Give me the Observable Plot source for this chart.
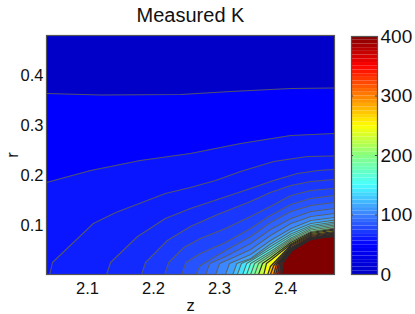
<!DOCTYPE html>
<html>
<head>
<meta charset="utf-8">
<script src="https://cdn.jsdelivr.net/npm/d3@7"></script>
<script src="https://cdn.jsdelivr.net/npm/@observablehq/plot@0.6"></script>
<style>
html,body{margin:0;padding:0;background:#fff}
#wrap{position:relative;width:415px;height:314px;overflow:hidden}
#wrap svg{position:absolute;left:0;top:0;background:transparent}
</style>
</head>
<body>
<div id="wrap"></div>
<script>
const titleText = "Measured K";
const xTicks = [2.1, 2.2, 2.3, 2.4];
const yTicks = [0.1, 0.2, 0.3, 0.4];
const barTicks = [0, 100, 200, 300, 400];
const zDomain = [2.038, 2.474];
const rDomain = [0.002, 0.48];
const jetColors = ["#0000c8","#0000ff","#3c82ff","#48ffff","#88ff80","#ffff00","#ff8000","#ff0000","#800000"];

// Value of the band on the high side of each contour
const bandValues = [0,50,58,62,66,71,76,82,88,94,102,112,125,138,150,165,182,200,225,245,270,290,310,330,350,370,385,400];

const c0 = [[2.038,.48],[2.474,.48]];
const c1 = [[2.038,.364],[2.120,.361],[2.241,.362],[2.317,.368],[2.408,.374],[2.474,.375]];
const c2 = [[2.038,.186],[2.105,.210],[2.180,.230],[2.256,.244],[2.332,.264],[2.408,.280],[2.474,.284]];
const c3 = [[2.043,.002],[2.047,.026],[2.109,.104],[2.143,.126],[2.218,.164],[2.256,.176],[2.294,.190],[2.332,.208],[2.382,.228],[2.433,.238],[2.474,.239]];
const c4 = [[2.129,.002],[2.135,.026],[2.176,.078],[2.218,.114],[2.256,.134],[2.347,.174],[2.382,.190],[2.418,.204],[2.449,.210],[2.474,.212]];
const c5 = [[2.182,.002],[2.188,.026],[2.221,.070],[2.256,.098],[2.297,.122],[2.347,.148],[2.377,.166],[2.408,.180],[2.438,.188],[2.474,.192]];
const c6 = [[2.217,.002],[2.223,.026],[2.246,.056],[2.271,.074],[2.309,.094],[2.347,.118],[2.377,.138],[2.408,.160],[2.438,.170],[2.474,.174]];
const c7 = [[2.243,.002],[2.249,.026],[2.271,.044],[2.309,.066],[2.347,.094],[2.377,.120],[2.408,.142],[2.438,.154],[2.474,.160]];
const c8 = [[2.264,.002],[2.271,.020],[2.309,.050],[2.347,.078],[2.377,.106],[2.408,.128],[2.438,.140],[2.474,.146]];
const c9 = [[2.279,.002],[2.285,.024],[2.309,.038],[2.347,.064],[2.377,.092],[2.408,.114],[2.438,.128],[2.474,.134]];
const c10 = [[2.294,.002],[2.300,.024],[2.324,.038],[2.347,.052],[2.377,.080],[2.408,.104],[2.438,.118],[2.474,.124]];
const c11 = [[2.309,.002],[2.315,.024],[2.347,.042],[2.377,.070],[2.408,.094],[2.438,.110],[2.474,.116]];
const c12 = [[2.320,.002],[2.326,.024],[2.347,.034],[2.377,.063],[2.408,.088],[2.438,.104],[2.474,.111]];
const c13 = [[2.327,.002],[2.333,.024],[2.350,.034],[2.377,.058],[2.408,.083],[2.438,.100],[2.474,.107]];
const c14 = [[2.335,.002],[2.341,.024],[2.377,.053],[2.408,.079],[2.438,.097],[2.474,.104]];
const c15 = [[2.341,.002],[2.347,.024],[2.377,.048],[2.408,.075],[2.438,.094],[2.474,.101]];
const c16 = [[2.347,.002],[2.353,.024],[2.377,.044],[2.408,.072],[2.438,.091],[2.474,.098]];
const c17 = [[2.353,.002],[2.359,.024],[2.377,.040],[2.408,.069],[2.438,.088],[2.474,.095]];
const c18 = [[2.359,.002],[2.365,.024],[2.377,.035],[2.408,.066],[2.438,.086],[2.474,.093]];
const c19 = [[2.367,.002],[2.371,.024],[2.377,.030],[2.408,.063],[2.438,.084],[2.474,.091]];
const c20 = [[2.373,.002],[2.377,.018],[2.408,.061],[2.438,.082],[2.474,.088]];
const c21 = [[2.377,.002],[2.382,.020],[2.408,.059],[2.438,.080],[2.474,.086]];
const c22 = [[2.382,.002],[2.386,.022],[2.408,.056],[2.438,.078],[2.474,.085]];
const c23 = [[2.385,.002],[2.389,.024],[2.408,.054],[2.438,.076],[2.474,.083]];
const c24 = [[2.388,.002],[2.391,.026],[2.408,.052],[2.438,.075],[2.474,.082]];
const c25 = [[2.391,.002],[2.393,.028],[2.408,.050],[2.438,.074],[2.474,.080]];
const c26 = [[2.393,.002],[2.395,.028],[2.408,.048],[2.438,.072],[2.474,.079]];
const c27 = [[2.394,.002],[2.397,.026],[2.412,.054],[2.433,.070],[2.453,.076],[2.474,.078]];
const contours = [c0,c1,c2,c3,c4,c5,c6,c7,c8,c9,c10,c11,c12,c13,c14,c15,c16,c17,c18,c19,c20,c21,c22,c23,c24,c25,c26,c27];

const rows = contours.flatMap((c, i) => c.map(([z, r]) => ({z, r, level: i, v: bandValues[i]})));
const lightLines = rows.filter(d => d.level > 0 && d.level < 18);
const darkLines = rows.filter(d => d.level >= 18);

const colorScale = {type: "linear", domain: [0, 400], interpolate: d3.piecewise(d3.interpolateRgb, jetColors)};
const fontStyle = {fontFamily: "'Liberation Sans', Arial, sans-serif", fontSize: "16.5px", color: "#111", background: "transparent", overflow: "visible"};

const main = Plot.plot({
  width: 415, height: 314,
  marginLeft: 46, marginRight: 81, marginTop: 35, marginBottom: 40,
  style: fontStyle,
  x: {domain: zDomain},
  y: {domain: rDomain},
  color: colorScale,
  marks: [
    Plot.area(rows, {x1: "z", y1: () => 0, y2: "r", z: "level", fill: "v", clip: true}),
    Plot.line(lightLines, {x: "z", y: "r", z: "level", stroke: "#5a5a5a", strokeWidth: 1.1, strokeOpacity: 0.9, clip: true}),
    Plot.line(darkLines, {x: "z", y: "r", z: "level", stroke: "#2c2c2c", strokeWidth: 1.2, clip: true}),
    Plot.frame({stroke: "#555", strokeWidth: 1.2}),
    Plot.axisX({ticks: xTicks, tickFormat: d3.format(".1f"), tickSize: 0, tickPadding: 8, label: "z", labelArrow: "none", labelAnchor: "center", labelOffset: 36}),
    Plot.axisY({ticks: yTicks, tickFormat: d3.format(".1f"), tickSize: 0, tickPadding: 3, label: "r", labelArrow: "none", labelAnchor: "center", labelOffset: 40}),
    Plot.text([titleText], {frameAnchor: "top", dy: -28, fontSize: 20, fill: "#111"})
  ]
});

const barBins = d3.range(0, 400, 6.25);
const barX = [0, 1];
const bar = Plot.plot({
  width: 415, height: 314,
  marginLeft: 351, marginRight: 38, marginTop: 36, marginBottom: 40,
  style: {...fontStyle, fontSize: "19px"},
  x: {domain: barX, axis: null},
  y: {domain: [0, 400]},
  color: colorScale,
  marks: [
    Plot.rect(barBins, {x1: () => 0, x2: () => 1, y1: d => d, y2: d => d + 6.25, fill: d => d + 3.125}),
    Plot.ruleY(barTicks, {x1: () => 0, x2: () => 0.08, stroke: "#444"}),
    Plot.ruleY(barTicks, {x1: () => 0.92, x2: () => 1, stroke: "#444"}),
    Plot.frame({stroke: "#555", strokeWidth: 1.2}),
    Plot.axisY({anchor: "right", ticks: barTicks, tickSize: 0, tickPadding: 3, label: null})
  ]
});

const wrap = document.getElementById("wrap");
wrap.appendChild(main);
wrap.appendChild(bar);
</script>
</body>
</html>
